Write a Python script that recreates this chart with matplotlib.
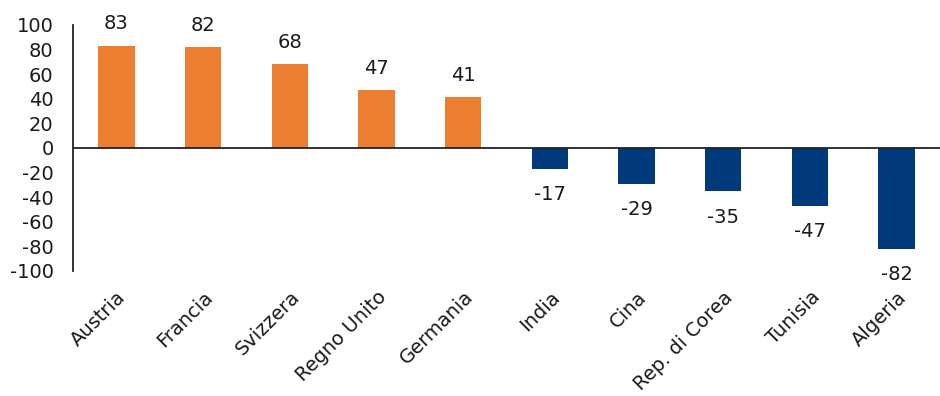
import matplotlib.pyplot as plt

# Saldo per paese
paesi = ["Austria", "Francia", "Svizzera", "Regno Unito", "Germania",
         "India", "Cina", "Rep. di Corea", "Tunisia", "Algeria"]
valori = [83, 82, 68, 47, 41, -17, -29, -35, -47, -82]

ARANCIO = "#ED7D31"
BLU = "#003A7A"

plt.rcParams["font.family"] = ["DejaVu Sans"]
plt.rcParams["axes.unicode_minus"] = False

fig = plt.figure(figsize=(9.4, 3.96), dpi=100)
ax = fig.add_axes([0.0777, 0.316, 0.9223, 0.621])

colori = [ARANCIO if v >= 0 else BLU for v in valori]
x = list(range(len(paesi)))
ax.bar(x, valori, width=0.42, color=colori)

for xi, v in zip(x, valori):
    if v >= 0:
        ax.annotate(str(v), (xi, v), xytext=(0, 9), textcoords="offset points",
                    ha="center", va="bottom", fontsize=14, color="#1a1a1a")
    else:
        ax.annotate(str(v), (xi, v), xytext=(0, -12), textcoords="offset points",
                    ha="center", va="top", fontsize=14, color="#1a1a1a")

ax.set_ylim(-100, 100)
ax.set_xlim(-0.5, len(paesi) - 0.5)
ax.set_yticks(range(-100, 101, 20))
ax.axhline(0, color="#222222", lw=1.3)

for s in ["top", "right", "bottom"]:
    ax.spines[s].set_visible(False)
ax.spines["left"].set_linewidth(1.3)
ax.spines["left"].set_color("#222222")

ax.tick_params(axis="y", length=0, pad=14, labelsize=14, labelcolor="#1a1a1a")
ax.tick_params(axis="x", length=0, pad=12)
ax.set_xticks(x)
ax.set_xticklabels(paesi, rotation=45, ha="right", rotation_mode="anchor",
                   fontsize=14, color="#1a1a1a")

fig.savefig("out.png", dpi=100)
